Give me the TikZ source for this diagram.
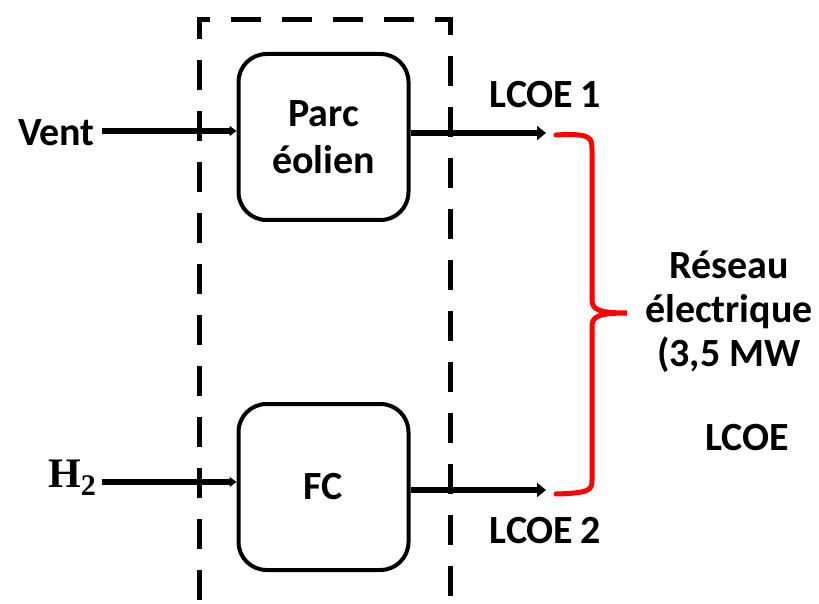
\documentclass[tikz,border=0pt]{standalone}
\usepackage{fontspec}
\setmainfont{Carlito}
\newfontfamily\hfont{Liberation Serif}
\usetikzlibrary{arrows.meta}
\begin{document}
\begin{tikzpicture}[x=1pt,y=-1pt,
  lbl/.style={font=\fontsize{40}{44}\selectfont\bfseries, inner sep=0pt, align=center},
  blk/.style={draw, line width=4pt, rounded corners=28pt, minimum width=170pt, minimum height=166pt, inner sep=0pt, align=center, font=\fontsize{40}{47}\selectfont\bfseries},
  flow/.style={line width=5.5pt, -{Triangle[length=9pt,width=14pt]}},
  inflow/.style={line width=5.5pt, -{Triangle[length=7pt,width=10pt]}},
  frame/.style={line width=5pt, dash pattern=on 30pt off 21pt},
  brace/.style={draw=red, line width=5pt, line cap=round}
]
\useasboundingbox (0,0) rectangle (819,604);
% dashed frame (open bottom)
\draw[frame] (199,600) -- (199,20) -- (450,20) -- (450,600);
% blocks
\node[blk] (pe) at (323.5,137) {Parc\\éolien};
\node[blk] (fc) at (323.5,487) {FC};
% inputs
\node[lbl, anchor=east] (vent) at (95,133) {Vent};
\node[anchor=east, inner sep=0pt] (h2) at (96,478) {\hfont\bfseries\fontsize{42}{42}\selectfont H\raisebox{-8pt}{\fontsize{30}{30}\selectfont 2}};
\draw[inflow] (102,131) coordinate (vs) -- (pe.west |- vs);
\draw[inflow] (102,482) coordinate (hs) -- (fc.west |- hs);
% outputs
\coordinate (o1) at (546,133);
\coordinate (o2) at (546,490);
\draw[flow] (pe.east |- o1) -- (o1);
\draw[flow] (fc.east |- o2) -- (o2);
\node[lbl] (l1) at (545,95) {LCOE\,1};
\node[lbl] (l2) at (545,531) {LCOE\,2};
% brace
\draw[brace] (556,135) .. controls (592,133) and (592,138) .. (592,150) -- (592,300)
  .. controls (592,310) and (600,313) .. (627,313)
  .. controls (600,313) and (592,316) .. (592,326) -- (592,480)
  .. controls (592,490) and (590,493) .. (556,494);
\node[lbl] (res) at (729,312) {Réseau\\électrique\\(3,5 MW};
\node[lbl] (lc) at (747,438) {LCOE};
\end{tikzpicture}
\end{document}
